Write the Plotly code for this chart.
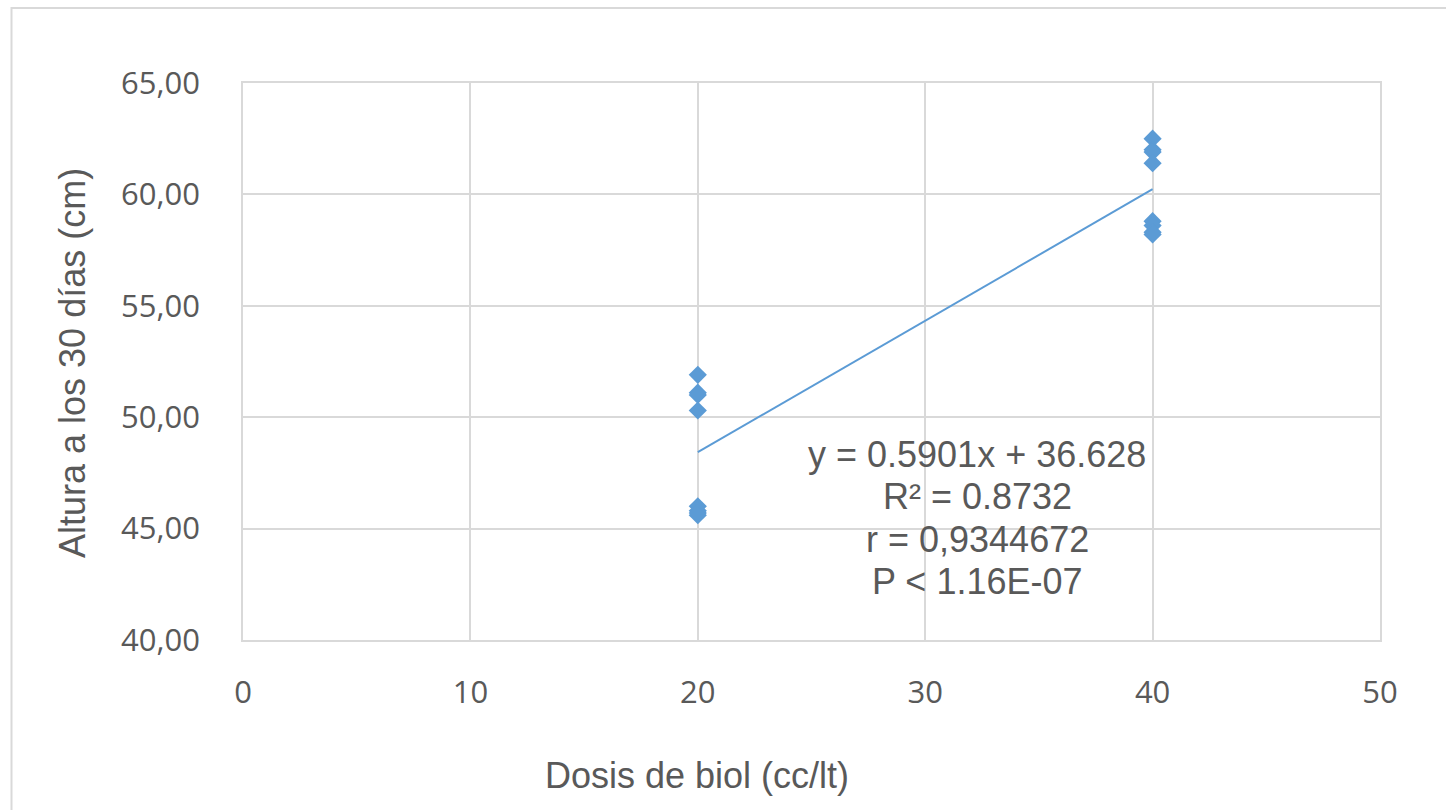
import plotly.graph_objects as go

# Data
dose = [20, 20, 20, 20, 20, 20, 20, 20,
        40, 40, 40, 40, 40, 40, 40, 40]
height = [51.9, 51.1, 51.0, 50.3, 46.0, 45.8, 45.7, 45.6,
          62.5, 62.0, 61.9, 61.4, 58.8, 58.6, 58.3, 58.2]

slope = 0.5901
intercept = 36.628
trend_x = [20, 40]
trend_y = [slope * v + intercept for v in trend_x]

x_ticks = [0, 10, 20, 30, 40, 50]
y_ticks = [40, 45, 50, 55, 60, 65]

stats_lines = ["y = 0.5901x + 36.628", "R² = 0.8732", "r = 0,9344672", "P < 1.16E-07"]

BLUE = "#5B9BD5"
GRID = "#D9D9D9"
TXT = "#595959"

fig = go.Figure()
fig.add_trace(go.Scatter(x=trend_x, y=trend_y, mode="lines",
                         line=dict(color=BLUE, width=2), hoverinfo="skip"))
fig.add_trace(go.Scatter(x=dose, y=height, mode="markers",
                         marker=dict(symbol="diamond", size=14, color=BLUE)))

W, H = 1446, 810
L, R, T, B = 243, 66, 83, 170
pw, ph = W - L - R, H - T - B

def px(xp):
    return (xp - L) / pw

def py(yp):
    return (H - B - yp) / ph

annotations = [
    dict(text="Dosis de biol (cc/lt)", x=px(697), y=py(775), xref="paper", yref="paper",
         showarrow=False, xanchor="center", yanchor="middle",
         font=dict(family="Liberation Sans, Arial", size=36, color=TXT)),
    dict(text="Altura a los 30 días (cm)", x=px(72), y=py(363), xref="paper", yref="paper",
         showarrow=False, xanchor="center", yanchor="middle", textangle=-90,
         font=dict(family="Liberation Sans, Arial", size=36, color=TXT)),
]
for line, yc in zip(stats_lines, [453, 495, 538, 580]):
    annotations.append(dict(text=line, x=px(977), y=py(yc + 1), xref="paper", yref="paper",
                            showarrow=False, xanchor="center", yanchor="middle",
                            font=dict(family="Liberation Sans, Arial", size=36, color=TXT)))

fig.update_layout(
    width=W, height=H,
    margin=dict(l=L, r=R, t=T, b=B),
    paper_bgcolor="white", plot_bgcolor="white",
    showlegend=False,
    separators=",.",
    annotations=annotations,
    shapes=[dict(type="rect", xref="paper", yref="paper",
                 x0=px(11.5), y0=-0.6, x1=1.3, y1=py(8),
                 line=dict(color=GRID, width=2), layer="below")],
    xaxis=dict(range=[0, 50], tickvals=x_ticks, showgrid=True, gridcolor=GRID, gridwidth=1.5,
               showline=True, mirror=True, linecolor=GRID, linewidth=1.5, zeroline=False,
               ticks="", ticklabelstandoff=24,
               tickfont=dict(family="Open Sans", size=31, color=TXT)),
    yaxis=dict(range=[40, 65], tickvals=y_ticks, tickformat=".2f", showgrid=True,
               gridcolor=GRID, gridwidth=1.5,
               showline=True, mirror=True, linecolor=GRID, linewidth=1.5, zeroline=False,
               ticks="", ticklabelstandoff=35,
               tickfont=dict(family="Open Sans", size=31, color=TXT)),
)

fig.write_html("out.html")
